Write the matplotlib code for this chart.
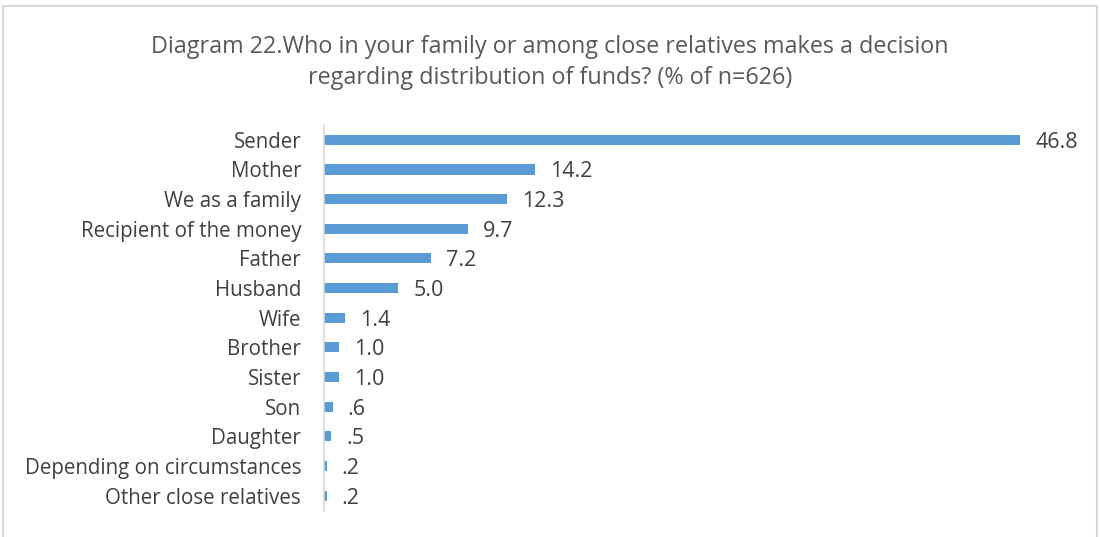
import matplotlib.pyplot as plt
from matplotlib.lines import Line2D

# data
categories = ["Sender", "Mother", "We as a family", "Recipient of the money", "Father",
              "Husband", "Wife", "Brother", "Sister", "Son", "Daughter",
              "Depending on circumstances", "Other close relatives"]
values = [46.8, 14.2, 12.3, 9.7, 7.2, 5.0, 1.4, 1.0, 1.0, 0.6, 0.5, 0.2, 0.2]
labels = ["46.8", "14.2", "12.3", "9.7", "7.2", "5.0", "1.4", "1.0", "1.0", ".6", ".5", ".2", ".2"]

plt.rcParams['font.family'] = ['Open Sans', 'DejaVu Sans']

fig = plt.figure(figsize=(11, 5.37), dpi=100)
ax = fig.add_axes([324 / 1100, 1 - 510.5 / 537, 744 / 1100, 385.5 / 537])

pos = list(range(len(categories)))
ax.barh(pos, values, height=0.34, color="#5B9BD5")
for p, v, lab in zip(pos, values, labels):
    ax.text(v + 1.0, p + 0.08, lab, va="center", ha="left", fontsize=15.5, color="#404040")

ax.set_xlim(0, 50)
ax.set_ylim(12.5, -0.5)
ax.set_yticks(pos)
ax.set_yticklabels(categories, fontsize=14.8, color="#404040")
ax.tick_params(axis="y", length=0, pad=16.5)
ax.set_xticks([])
for s in ["top", "right", "bottom"]:
    ax.spines[s].set_visible(False)
ax.spines["left"].set_color("#D9D9D9")
ax.spines["left"].set_linewidth(1.2)

fig.text(0.5, 1 - 62.5 / 537, "Diagram 22.Who in your family or among close relatives makes a decision\n"
         "regarding distribution of funds? (% of n=626)",
         ha="center", va="center", fontsize=16.8, color="#595959", linespacing=1.4)

# chart frame (no bottom edge visible)
bc = "#D9D9D9"
fig.add_artist(Line2D([3 / 1100, 3 / 1100], [0, 1 - 6 / 537], color=bc, lw=1.5))
fig.add_artist(Line2D([1097 / 1100, 1097 / 1100], [0, 1 - 6 / 537], color=bc, lw=1.5))
fig.add_artist(Line2D([3 / 1100, 1097 / 1100], [1 - 6 / 537, 1 - 6 / 537], color=bc, lw=1.5))

fig.savefig("out.png", dpi=100)
